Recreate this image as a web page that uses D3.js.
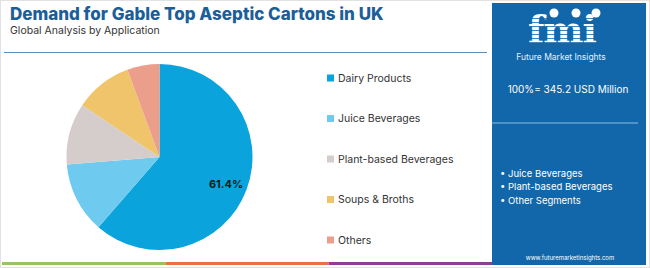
<!DOCTYPE html>
<html>
<head>
<meta charset="utf-8">
<script src="https://cdn.jsdelivr.net/npm/d3@7"></script>
<style>
  body { margin: 0; background: #fff; }
  svg { display: block; font-family: Inter, "Open Sans", sans-serif; }
</style>
</head>
<body>
<div id="chart"></div>
<script>
// data
const categories = ["Dairy Products", "Juice Beverages", "Plant-based Beverages", "Soups & Broths", "Others"];
const shares = [61.4, 12.3, 10.7, 10.0, 5.6];
const colors = ["#0aa3dc", "#6ecbef", "#d4cdcb", "#efc46a", "#eb9f8a"];
const totalLabel = "100%= 345.2 USD Million";
const panelBullets = ["Juice Beverages", "Plant-based Beverages", "Other Segments"];

const width = 650;
const height = 268;

const svg = d3.select("#chart").append("svg")
  .attr("width", width)
  .attr("height", height);

// outer frame
svg.append("rect")
  .attr("x", 0.5).attr("y", 0.5)
  .attr("width", width - 1).attr("height", height - 1)
  .attr("fill", "none").attr("stroke", "#e2e2e2");

// title block
svg.append("text")
  .attr("x", 10).attr("y", 20)
  .attr("font-size", 17).attr("font-weight", 800)
  .attr("fill", "#1b5e98")
  .text("Demand for Gable Top Aseptic Cartons in UK");

svg.append("text")
  .attr("x", 10).attr("y", 34)
  .attr("font-size", 10.5)
  .attr("fill", "#333")
  .text("Global Analysis by Application");

// divider under title
svg.append("line")
  .attr("x1", 4).attr("x2", 487)
  .attr("y1", 52.5).attr("y2", 52.5)
  .attr("stroke", "#5a8fbf").attr("stroke-width", 1.2);

// pie
const cx = 159.5, cy = 157, radius = 93;
const pie = d3.pie().sort(null).value(d => d);
const arc = d3.arc().innerRadius(0).outerRadius(radius);
const arcs = pie(shares);

const pieG = svg.append("g").attr("transform", `translate(${cx}, ${cy})`);
pieG.selectAll("path")
  .data(arcs)
  .enter().append("path")
  .attr("d", arc)
  .attr("fill", (d, i) => colors[i]);

// only the big slice is labelled
pieG.append("text")
  .attr("x", 66.5).attr("y", 28)
  .attr("text-anchor", "middle")
  .attr("dominant-baseline", "middle")
  .attr("font-size", 11).attr("font-weight", 700)
  .attr("fill", "#1a1a1a")
  .text(shares[0].toFixed(1) + "%");

// legend
const legendY = d3.scalePoint()
  .domain(categories)
  .range([78, 240]);

const legend = svg.append("g");
const items = legend.selectAll("g")
  .data(categories)
  .enter().append("g")
  .attr("transform", d => `translate(327, ${legendY(d)})`);

items.append("rect")
  .attr("x", 0).attr("y", -3.5)
  .attr("width", 7).attr("height", 7)
  .attr("fill", (d, i) => colors[i]);

items.append("text")
  .attr("x", 11).attr("y", 0)
  .attr("dominant-baseline", "central")
  .attr("font-size", 10.5)
  .attr("fill", "#333")
  .text(d => d);

// bottom colour strip
const stripColors = ["#94c466", "#e8714a", "#8f3e92"];
const stripX = d3.scaleBand().domain(d3.range(3)).range([2, 492]);
svg.selectAll(".strip")
  .data(stripColors)
  .enter().append("rect")
  .attr("class", "strip")
  .attr("x", (d, i) => stripX(i))
  .attr("y", 262)
  .attr("width", stripX.bandwidth())
  .attr("height", 3)
  .attr("fill", d => d);

// right panel
const panel = svg.append("g");
panel.append("rect")
  .attr("x", 492).attr("y", 3)
  .attr("width", 154).attr("height", 262)
  .attr("fill", "#1167a9");

// logo
const logo = panel.append("g");
logo.append("text")
  .attr("x", 562).attr("y", 43)
  .attr("text-anchor", "middle")
  .attr("font-family", "'DejaVu Serif', serif")
  .attr("font-size", 38).attr("font-weight", 700)
  .attr("fill", "#fff")
  .attr("letter-spacing", -1)
  .text("fmi");
// stripes over the logo letters
logo.selectAll(".stripe")
  .data(d3.range(7))
  .enter().append("rect")
  .attr("class", "stripe")
  .attr("x", 512).attr("y", i => 18 + i * 4)
  .attr("width", 100).attr("height", 1)
  .attr("fill", "#1167a9").attr("opacity", 0.8);
logo.selectAll(".dot")
  .data([554, 576, 596])
  .enter().append("circle")
  .attr("class", "dot")
  .attr("cx", d => d).attr("cy", 13)
  .attr("r", 4.5)
  .attr("fill", "#fff");
logo.append("text")
  .attr("x", 561).attr("y", 60)
  .attr("text-anchor", "middle")
  .attr("font-size", 8.5)
  .attr("fill", "#e6f0f8")
  .text("Future Market Insights");

panel.append("text")
  .attr("x", 568).attr("y", 89)
  .attr("text-anchor", "middle")
  .attr("dominant-baseline", "central")
  .attr("font-size", 10)
  .attr("fill", "#fff")
  .text(totalLabel);

panel.append("line")
  .attr("x1", 492).attr("x2", 638)
  .attr("y1", 123).attr("y2", 123)
  .attr("stroke", "#8fbde0").attr("stroke-width", 1);

panel.selectAll(".bullet")
  .data(panelBullets)
  .enter().append("text")
  .attr("class", "bullet")
  .attr("x", 500)
  .attr("y", (d, i) => 173 + i * 13.5)
  .attr("dominant-baseline", "central")
  .attr("font-size", 9.5)
  .attr("fill", "#fff")
  .text(d => "\u2022 " + d);

panel.append("text")
  .attr("x", 570).attr("y", 257)
  .attr("text-anchor", "middle")
  .attr("dominant-baseline", "central")
  .attr("font-size", 6)
  .attr("fill", "#fff")
  .text("www.futuremarketinsights.com");
</script>
</body>
</html>
